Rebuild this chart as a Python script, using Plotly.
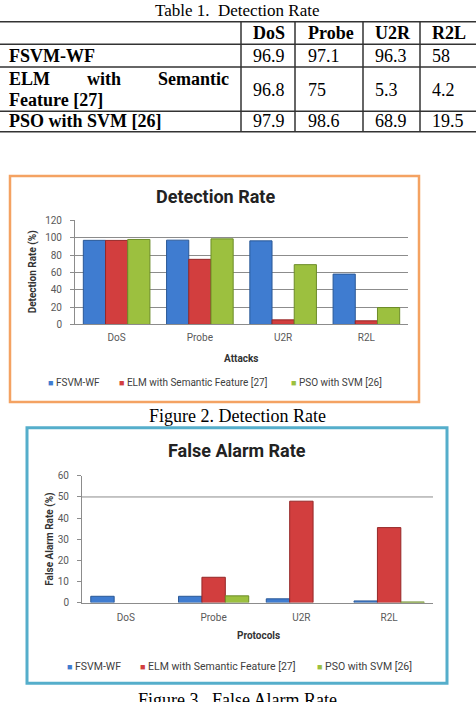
import plotly.graph_objects as go

W, H = 476, 702

# ---------------- data ----------------
attacks = ["DoS", "Probe", "U2R", "R2L"]
methods = ["FSVM-WF", "ELM with Semantic Feature [27]", "PSO with SVM [26]"]
det_fsvm = [96.9, 97.1, 96.3, 58]
det_elm = [96.8, 75, 5.3, 4.2]
det_pso = [97.9, 98.6, 68.9, 19.5]
fa_fsvm = [3.0, 3.0, 1.8, 0.8]
fa_elm = [0, 12, 48, 35.5]
fa_pso = [0, 3.2, 0, 0.3]
det_ticks = [0, 20, 40, 60, 80, 100, 120]
fa_ticks = [0, 10, 20, 30, 40, 50, 60]

colors = ["#3F7CD0", "#D23E3E", "#9CC03F"]
edges = ["#2A5896", "#952828", "#6C8C28"]


def px(x):
    return x / W


def py(y):
    return 1 - y / H


fig = go.Figure()

det_series = [det_fsvm, det_elm, det_pso]
fa_series = [fa_fsvm, fa_elm, fa_pso]
for i, m in enumerate(methods):
    fig.add_trace(go.Bar(x=attacks, y=det_series[i], name=m, xaxis="x", yaxis="y",
                         marker=dict(color=colors[i], line=dict(color=edges[i], width=1)),
                         showlegend=False))
for i, m in enumerate(methods):
    fig.add_trace(go.Bar(x=attacks, y=fa_series[i], name=m, xaxis="x2", yaxis="y2",
                         marker=dict(color=colors[i],
                                     line=dict(color=edges[i],
                                               width=[1 if v > 0 else 0 for v in fa_series[i]])),
                         showlegend=False))

tickfont = dict(family="Roboto", size=10, color="#595959")
axcommon = dict(showline=True, linecolor="#8C8C8C", linewidth=1, fixedrange=True)

fig.update_layout(
    width=W, height=H, margin=dict(l=0, r=0, t=0, b=0),
    paper_bgcolor="white", plot_bgcolor="white",
    barmode="group", bargap=0.2, bargroupgap=0,
    xaxis=dict(domain=[px(75), px(408)], anchor="y", tickfont=tickfont, ticks="",
               ticklabelstandoff=4, **axcommon),
    yaxis=dict(domain=[py(324), py(218)], anchor="x", range=[0, 120], tickvals=det_ticks,
               tickfont=tickfont, showgrid=True, gridcolor="#8C8C8C", gridwidth=1,
               ticks="outside", ticklen=4, tickcolor="#8C8C8C", zeroline=False,
               ticklabelstandoff=6, **axcommon),
    xaxis2=dict(domain=[px(82), px(433)], anchor="y2", tickfont=tickfont, ticks="",
                ticklabelstandoff=5, **axcommon),
    yaxis2=dict(domain=[py(607), py(478)], anchor="x2", range=[0, 60], tickvals=fa_ticks,
                tickfont=tickfont, showgrid=False, ticks="outside", ticklen=4,
                tickcolor="#8C8C8C", zeroline=False, ticklabelstandoff=6, **axcommon),
    showlegend=False,
)

shapes = []
# gridline at 50 for false alarm chart
shapes.append(dict(type="line", xref="x2 domain", yref="y2", x0=0, x1=1, y0=50, y1=50,
                   line=dict(color="#8C8C8C", width=1), layer="below"))
# figure borders
shapes.append(dict(type="rect", xref="paper", yref="paper", x0=px(10), x1=px(419),
                   y0=py(403), y1=py(173), line=dict(color="#F4A262", width=2.5)))
shapes.append(dict(type="rect", xref="paper", yref="paper", x0=px(27), x1=px(447),
                   y0=py(689), y1=py(429), line=dict(color="#55AECB", width=3)))
# table lines
row_lines = [16, 39, 62, 107, 128]
col_lines = [241, 295, 363, 420]
for yl in row_lines:
    shapes.append(dict(type="line", xref="paper", yref="paper", x0=0, x1=1, y0=py(yl), y1=py(yl),
                       line=dict(color="#333333", width=1.5)))
for xl in col_lines:
    shapes.append(dict(type="line", xref="paper", yref="paper", x0=px(xl), x1=px(xl),
                       y0=py(16), y1=py(128), line=dict(color="#333333", width=1.5)))
fig.update_layout(shapes=shapes)

ann = []
serif = "Liberation Serif"


def text(x, y, s, size=18, family=serif, color="black", xanchor="left", angle=0):
    ann.append(dict(xref="paper", yref="paper", x=px(x), y=py(y), text=s, showarrow=False,
                    xanchor=xanchor, yanchor="middle", textangle=angle,
                    font=dict(family=family, size=size, color=color)))


# table
text(237, 5, "Table 1.  Detection Rate", size=17, xanchor="center")
col_x = [251, 306, 373, 430]
for j, a in enumerate(attacks):
    text(col_x[j], 27.5, "<b>%s</b>" % a)
row_centers = [50.5, 85, 117.5]
for i, m in enumerate(methods):
    vals = det_series[i]
    if i == 1:
        words = m.split(" ")
        text(7, 74, "<b>%s</b>" % words[0])
        text(104, 74, "<b>%s</b>" % words[1], xanchor="center")
        text(231, 74, "<b>%s</b>" % words[2], xanchor="right")
        text(7, 96, "<b>%s</b>" % " ".join(words[3:]))
    else:
        text(7, row_centers[i], "<b>%s</b>" % m)
    for j, v in enumerate(vals):
        text(col_x[j], row_centers[i], "%g" % v)

# chart titles
text(215, 194, "<b>Detection Rate</b>", size=18, family="Roboto", color="#222222", xanchor="center")
text(237, 452, "<b>False Alarm Rate</b>", size=18, family="Roboto", color="#222222", xanchor="center")
text(241, 359, "<b>Attacks</b>", size=10, family="Roboto", color="#333333", xanchor="center")
text(258, 640, "<b>Protocols</b>", size=10, family="Roboto", color="#333333", xanchor="center")
text(33, 271, "<b>Detection Rate (%)</b>", size=10, family="Roboto", color="#333333",
     xanchor="center", angle=-90)
text(50, 543, "<b>False Alarm Rate (%)</b>", size=10, family="Roboto", color="#333333",
     xanchor="center", angle=-90)

# legends (drawn as text)
leg1_x = [46, 117, 289]
leg2_x = [65, 138, 315]
for i, m in enumerate(methods):
    s = "<span style='color:%s;font-size:9px'>■</span> %s" % (colors[i], m)
    text(leg1_x[i], 383, s, size=10, family="Roboto", color="#404040")
    text(leg2_x[i], 672, s, size=10.5, family="Roboto", color="#404040")

# captions
text(237, 417, "Figure 2. Detection Rate", size=18, xanchor="center")
text(237, 706, "Figure 3.  False Alarm Rate", size=18, xanchor="center")

fig.update_layout(annotations=ann)
fig.write_html("out.html")
